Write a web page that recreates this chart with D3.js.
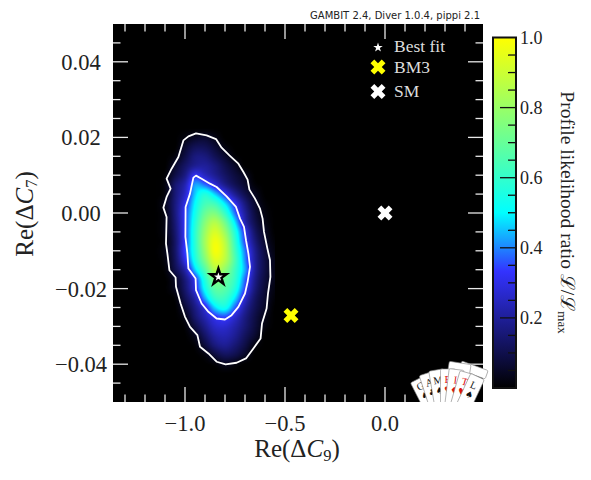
<!DOCTYPE html>
<html><head><meta charset="utf-8">
<script src="https://cdnjs.cloudflare.com/ajax/libs/d3/7.8.5/d3.min.js"></script>
<style>html,body{margin:0;padding:0;background:#fff}svg{display:block}text{font-family:"Liberation Serif",serif;fill:#222}</style>
</head><body><svg id="c" width="591" height="480"></svg>
<script>
const xDomain=[-1.36,0.49], yDomain=[-0.05,0.05];
const xMajor=[-1.0,-0.5,0.0];
const xMinor=[-1.3,-1.2,-1.1,-0.9,-0.8,-0.7,-0.6,-0.4,-0.3,-0.2,-0.1,0.1,0.2,0.3,0.4];
const yMajor=[-0.04,-0.02,0.0,0.02,0.04];
const yMinor=[-0.045,-0.035,-0.03,-0.025,-0.015,-0.01,-0.005,0.005,0.01,0.015,0.025,0.03,0.035,0.045];
const cbMajor=[0.2,0.4,0.6,0.8];
const cbMinor=[0.05,0.1,0.15,0.25,0.3,0.35,0.45,0.5,0.55,0.65,0.7,0.75,0.85,0.9,0.95];
const cbLabels=[0.2,0.4,0.6,0.8,1.0];
const cmapStops=[0,0.3333,0.5,1];
const cmapColors=["#000000","#3333ff","#00ffff","#ffff00"];
const heatX=[-1.15,-1.10,-1.05,-1.00,-0.95,-0.90,-0.85,-0.80,-0.75,-0.70,-0.65,-0.60,-0.55];
const heatY=[0.025,0.0225,0.02,0.0175,0.015,0.0125,0.01,0.0075,0.005,0.0025,0,-0.0025,-0.005,-0.0075,-0.01,-0.0125,-0.015,-0.0175,-0.02,-0.0225,-0.025,-0.0275,-0.03,-0.0325,-0.035,-0.0375,-0.04,-0.0425,-0.045];
const heat=[
[0,0,0,0,0,0,0,0,0,0,0,0,0],
[0,0,0,0,0,0,0,0,0,0,0,0,0],
[0,0,0,.02,.05,.06,.03,0,0,0,0,0,0],
[0,0,0,.06,.11,.11,.07,.02,0,0,0,0,0],
[0,0,.02,.09,.16,.16,.11,.06,.01,0,0,0,0],
[0,0,.06,.13,.19,.20,.16,.10,.05,0,0,0,0],
[0,.01,.09,.17,.31,.25,.19,.13,.08,.04,0,0,0],
[0,.02,.14,.23,.42,.38,.28,.18,.11,.06,.01,0,0],
[0,.02,.15,.26,.46,.56,.46,.32,.19,.10,.04,0,0],
[0,.04,.16,.30,.50,.63,.62,.48,.31,.16,.06,.01,0],
[0,.03,.16,.33,.53,.70,.74,.60,.38,.20,.08,.02,0],
[0,.03,.15,.33,.56,.76,.85,.72,.48,.23,.10,.03,0],
[0,.03,.14,.33,.58,.80,.92,.80,.56,.31,.13,.05,0],
[0,.02,.13,.33,.58,.82,.97,.86,.60,.34,.16,.06,.01],
[0,.03,.13,.34,.57,.80,.98,.88,.63,.39,.19,.08,.02],
[0,.02,.12,.30,.54,.75,.93,.86,.65,.41,.20,.09,.03],
[0,.01,.10,.22,.46,.66,.85,.78,.62,.43,.20,.09,.03],
[0,0,.05,.16,.32,.57,.75,.70,.60,.38,.18,.08,.03],
[0,0,.04,.14,.29,.52,.68,.67,.56,.34,.16,.07,.02],
[0,0,.01,.11,.22,.43,.60,.61,.48,.27,.13,.06,.01],
[0,0,0,.07,.17,.29,.47,.53,.37,.21,.11,.05,0],
[0,0,0,.03,.14,.23,.32,.35,.27,.17,.09,.03,0],
[0,0,0,.01,.09,.18,.26,.27,.22,.15,.08,.02,0],
[0,0,0,0,.04,.13,.21,.23,.19,.12,.06,0,0],
[0,0,0,0,.01,.08,.16,.19,.15,.09,.02,0,0],
[0,0,0,0,0,.02,.08,.12,.10,.05,0,0,0],
[0,0,0,0,0,0,.01,.04,.02,0,0,0,0],
[0,0,0,0,0,0,0,0,0,0,0,0,0],
[0,0,0,0,0,0,0,0,0,0,0,0,0]];
const outerContour=[[-0.945,0.02106],[-0.892,0.02053],[-0.845,0.01956],[-0.817,0.01727],[-0.778,0.01525],[-0.733,0.01305],[-0.708,0.01084],[-0.687,0.00882],[-0.678,0.00618],[-0.650,0.0038],[-0.625,0.00116],[-0.612,-0.00149],[-0.605,-0.00501],[-0.588,-0.00941],[-0.575,-0.01249],[-0.573,-0.0169],[-0.585,-0.0213],[-0.592,-0.02526],[-0.615,-0.02923],[-0.622,-0.03319],[-0.658,-0.03583],[-0.695,-0.03847],[-0.742,-0.03962],[-0.797,-0.04006],[-0.842,-0.03935],[-0.883,-0.03715],[-0.925,-0.03539],[-0.938,-0.03231],[-0.975,-0.03011],[-1.0,-0.02747],[-1.022,-0.02394],[-1.045,-0.01954],[-1.047,-0.01707],[-1.078,-0.01514],[-1.088,-0.01073],[-1.095,-0.00809],[-1.092,-0.00105],[-1.108,0.00142],[-1.092,0.00424],[-1.072,0.00644],[-1.092,0.00908],[-1.067,0.01172],[-1.033,0.01481],[-1.008,0.01921],[-0.983,0.02027]];
const innerContour=[[-0.945,0.00988],[-0.917,0.00908],[-0.875,0.00776],[-0.842,0.00688],[-0.792,0.00441],[-0.745,0.0016],[-0.725,-0.00149],[-0.705,-0.00369],[-0.695,-0.00721],[-0.683,-0.01073],[-0.675,-0.01426],[-0.687,-0.01822],[-0.700,-0.0213],[-0.733,-0.02482],[-0.767,-0.02703],[-0.800,-0.02817],[-0.842,-0.02791],[-0.883,-0.02614],[-0.917,-0.02394],[-0.945,-0.02042],[-0.947,-0.01734],[-0.983,-0.0147],[-0.988,-0.01073],[-0.998,-0.00633],[-0.997,0.0016],[-0.975,0.00512],[-0.958,0.00935]];
const bestFit=[-0.833,-0.0169];
const bm3=[-0.47,-0.0271];
const sm=[0,0];
const legendNames=["Best fit","BM3","SM"];
const logoLetters=["G","A","M","B","I","T","L"];
const logoSuits=["♠","♣","♠","♥","♦","♥","♠"];
const logoAngles=[-27,-18,-9.6,0,7,16,25];
const logoColors=["#111","#111","#111","#d11","#d11","#d11","#111"];

const P={l:113,r:483,t:24,b:402};
const svg=d3.select("#c");
const x=d3.scaleLinear().domain(xDomain).range([P.l,P.r]);
const y=d3.scaleLinear().domain(yDomain).range([P.b,P.t]);
const cmap=d3.scaleLinear().domain(cmapStops).range(cmapColors).clamp(true);
const fmt=d3.format(".1f"), fmt2=d3.format(".2f");
const minus=s=>s.replace("-","\u2212");

function cr(p0,p1,p2,p3,t){return 0.5*((2*p1)+(-p0+p2)*t+(2*p0-5*p1+4*p2-p3)*t*t+(-p0+3*p1-3*p2+p3)*t*t*t);}
const colIdx=d3.scaleLinear().domain([heatX[0],heatX[heatX.length-1]]).range([0,heatX.length-1]);
const rowIdx=d3.scaleLinear().domain([heatY[0],heatY[heatY.length-1]]).range([0,heatY.length-1]);
const at=(r,c)=>{r=Math.max(0,Math.min(heatY.length-1,r));c=Math.max(0,Math.min(heatX.length-1,c));return heat[r][c];};
function val(dx,dy){
  const c=colIdx(dx),r=rowIdx(dy);
  if(c<0||r<0||c>heatX.length-1||r>heatY.length-1)return 0;
  const c0=Math.floor(c),r0=Math.floor(r),tc=c-c0,tr=r-r0,rows=[];
  for(let i=-1;i<=2;i++)rows.push(cr(at(r0+i,c0-1),at(r0+i,c0),at(r0+i,c0+1),at(r0+i,c0+2),tc));
  return Math.max(0,cr(rows[0],rows[1],rows[2],rows[3],tr));
}
const W=P.r-P.l,H=P.b-P.t;
const cv=document.createElement("canvas");cv.width=W;cv.height=H;
const g2=cv.getContext("2d"),im=g2.createImageData(W,H);
for(let j=0;j<H;j++)for(let i=0;i<W;i++){
  const col=d3.rgb(cmap(val(x.invert(P.l+i+.5),y.invert(P.t+j+.5))));
  const k=4*(j*W+i);im.data[k]=col.r;im.data[k+1]=col.g;im.data[k+2]=col.b;im.data[k+3]=255;
}
g2.putImageData(im,0,0);
svg.append("image").attr("x",P.l).attr("y",P.t).attr("width",W).attr("height",H).attr("href",cv.toDataURL());

const line=d3.line().x(d=>x(d[0])).y(d=>y(d[1])).curve(d3.curveLinearClosed);
[outerContour,innerContour].forEach(c=>svg.append("path").attr("d",line(c)).attr("fill","none").attr("stroke","#fff").attr("stroke-width",1.8).attr("stroke-linejoin","round"));

const tickCol="#e8e8e8";
function xt(vals,len){vals.forEach(v=>{
  svg.append("line").attr("x1",x(v)).attr("x2",x(v)).attr("y1",P.b).attr("y2",P.b-len).attr("stroke",tickCol).attr("stroke-width",1.3);
  svg.append("line").attr("x1",x(v)).attr("x2",x(v)).attr("y1",P.t).attr("y2",P.t+len).attr("stroke",tickCol).attr("stroke-width",1.3);});}
function yt(vals,len){vals.forEach(v=>{
  svg.append("line").attr("y1",y(v)).attr("y2",y(v)).attr("x1",P.l).attr("x2",P.l+len).attr("stroke",tickCol).attr("stroke-width",1.3);
  svg.append("line").attr("y1",y(v)).attr("y2",y(v)).attr("x1",P.r).attr("x2",P.r-len).attr("stroke",tickCol).attr("stroke-width",1.3);});}
xt(xMajor,15);xt(xMinor,7.5);yt(yMajor,15);yt(yMinor,7.5);

xMajor.forEach(v=>svg.append("text").attr("x",x(v)).attr("y",431).attr("text-anchor","middle").attr("font-size",22.5).text(minus(fmt(v))));
yMajor.forEach(v=>svg.append("text").attr("x",81).attr("y",y(v)+8).attr("text-anchor","middle").attr("font-size",22.5).text(minus(fmt2(v))));

function title(t,parts){parts.forEach(([s,o])=>{const sp=t.append("tspan").text(s);Object.entries(o||{}).forEach(([k,v])=>sp.attr(k,v));});}
title(svg.append("text").attr("x",297).attr("y",457).attr("text-anchor","middle").attr("font-size",25),
  [["Re(Δ"],["C",{"font-style":"italic"}],["9",{"font-size":16.5,dy:3.5}],[")",{dy:-3.5}]]);
title(svg.append("text").attr("transform","translate(33,214) rotate(-90)").attr("text-anchor","middle").attr("font-size",25),
  [["Re(Δ"],["C",{"font-style":"italic"}],["7",{"font-size":16.5,dy:3.5}],[")",{dy:-3.5}]]);

const star=r=>d3.symbol().type(d3.symbolStar).size(r*r/0.8908)();
const cross=d3.symbol().type(d3.symbolCross).size(140)();
function X(px,py,col){svg.append("path").attr("d",cross).attr("transform",`translate(${px},${py}) rotate(45)`).attr("fill",col);}
X(x(sm[0]),y(sm[1]),"#fff");
X(x(bm3[0]),y(bm3[1]),"#ffff00");
svg.append("path").attr("d",star(8.5)).attr("transform",`translate(${x(bestFit[0])},${y(bestFit[1])})`).attr("fill","#fff").attr("stroke","#000").attr("stroke-width",2.4);

svg.append("path").attr("d",star(5)).attr("transform","translate(378,47.5)").attr("fill","#fff");
X(378,67,"#ffff00");X(378,91.5,"#fff");
[[52],[73],[97]].forEach(([py],i)=>svg.append("text").attr("x",394).attr("y",py).attr("font-size",17.5).style("fill","#ddd").text(legendNames[i]));

const logo=svg.append("g");
svg.append("clipPath").attr("id","lc").append("rect").attr("x",400).attr("y",350).attr("width",92).attr("height",52);
logo.attr("clip-path","url(#lc)");
const card=(a,w,r,r0)=>logo.append("rect").attr("x",-w/2).attr("y",-r).attr("width",w).attr("height",r-r0).attr("rx",1.5).attr("transform",`translate(448,440) rotate(${a})`).attr("fill","#fff").attr("stroke","#888").attr("stroke-width",.6);
card(20,28,79,70);card(9,22,78,50);
logoAngles.forEach((a,i)=>{
  card(a,15,a<-20?68:(Math.abs(a)<12?71:70),0);
  const g=logo.append("g").attr("transform",`translate(448,440) rotate(${a})`);
  g.append("text").attr("x",0).attr("y",-57).attr("text-anchor","middle").attr("font-size",10.5).style("fill",logoColors[i]).text(logoLetters[i]);
  g.append("text").attr("x",0).attr("y",-47).attr("text-anchor","middle").attr("font-size",9).style("font-family","DejaVu Sans").style("fill",logoColors[i]).text(logoSuits[i]);
});

const cb={l:493,r:516,t:37.5,b:388};
const cy=d3.scaleLinear().domain([0,1]).range([cb.b,cb.t]);
const grad=svg.append("defs").append("linearGradient").attr("id","g").attr("x1",0).attr("x2",0).attr("y1",1).attr("y2",0);
cmapStops.forEach((s,i)=>grad.append("stop").attr("offset",s).attr("stop-color",cmapColors[i]));
svg.append("rect").attr("x",cb.l).attr("y",cb.t).attr("width",cb.r-cb.l).attr("height",cb.b-cb.t).attr("fill","url(#g)").attr("stroke","#111").attr("stroke-width",2);
const cbt=(vals,len)=>vals.forEach(v=>svg.append("line").attr("x1",cb.r).attr("x2",cb.r-len).attr("y1",cy(v)).attr("y2",cy(v)).attr("stroke","#111").attr("stroke-width",1.3));
cbt(cbMajor,16);cbt(cbMinor,8);
cbLabels.forEach(v=>svg.append("text").attr("x",520).attr("y",cy(v)+6).attr("font-size",18).text(fmt(v)));
title(svg.append("text").attr("transform","translate(561,212.5) rotate(90)").attr("text-anchor","middle").attr("font-size",19.5),
  [["Profile likelihood ratio "],["ℒ/ℒ"],["max",{"font-size":13,dy:3}]]);

svg.append("text").attr("x",480).attr("y",19).attr("text-anchor","end").style("font-family","DejaVu Sans").attr("font-size",10).text("GAMBIT 2.4, Diver 1.0.4, pippi 2.1");
</script></body></html>
